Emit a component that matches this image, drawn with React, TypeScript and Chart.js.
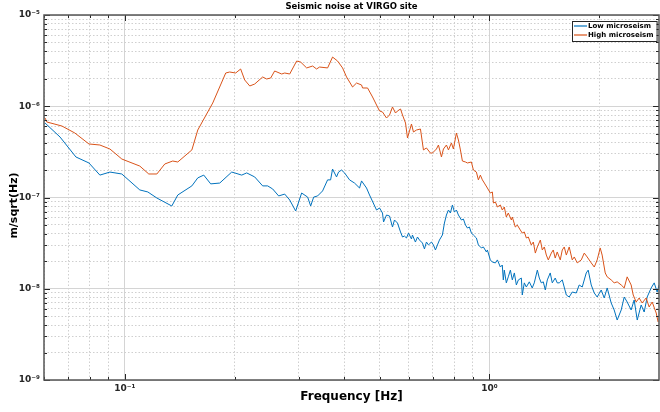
import React, { useEffect, useRef } from "react";
import { Chart, registerables } from "chart.js";
Chart.register(...registerables);

const TITLE = "Seismic noise at VIRGO site";
const X_TITLE = "Frequency [Hz]";
const Y_TITLE = "m/sqrt(Hz)";
const SERIES_NAMES = ["Low microseism", "High microseism"];
const COLORS = ["#0072BD", "#D95319"];

const X_MIN = 0.06;
const X_MAX = 2.92;
const Y_MIN = 1e-9;
const Y_MAX = 1e-5;

const xTickValues = [0.06, 0.07, 0.08, 0.09, 0.1, 0.2, 0.3, 0.4, 0.5, 0.6, 0.7, 0.8, 0.9, 1, 2];
const yTickValues = [
  1e-9, 2e-9, 3e-9, 4e-9, 5e-9, 6e-9, 7e-9, 8e-9, 9e-9,
  1e-8, 2e-8, 3e-8, 4e-8, 5e-8, 6e-8, 7e-8, 8e-8, 9e-8,
  1e-7, 2e-7, 3e-7, 4e-7, 5e-7, 6e-7, 7e-7, 8e-7, 9e-7,
  1e-6, 2e-6, 3e-6, 4e-6, 5e-6, 6e-6, 7e-6, 8e-6, 9e-6,
  1e-5,
];

const freqLow = [0.0604,0.0664,0.0734,0.0797,0.0854,0.0910,0.0981,0.1099,0.1156,0.1224,0.1345,0.1397,0.1527,0.1585,0.1646,0.1720,0.1821,0.1964,0.2001,0.2092,0.2159,0.2271,0.2388,0.2465,0.2544,0.2642,0.2745,0.2833,0.2942,0.3055,0.3173,0.3234,0.3296,0.3379,0.3487,0.3599,0.3668,0.3714,0.3808,0.3857,0.3930,0.4006,0.4135,0.4267,0.4404,0.4460,0.4603,0.4691,0.4903,
  0.4997,0.5091,0.5125,0.5222,0.5322,0.5423,0.5492,0.5597,0.5705,0.5777,0.5848,0.5923,0.6000,0.6114,0.6152,0.6268,0.6350,0.6431,0.6553,0.6636,0.6720,0.6806,0.6935,0.7024,0.7113,0.7204,0.7295,0.7433,0.7529,0.7624,0.7722,0.7819,0.7918,0.8019,0.8120,0.8224,0.8382,0.8488,0.8600,0.8705,0.8815,0.8927,0.9040,0.9213,0.9330,0.9508,0.9629,0.9813,0.9875,
  1.006,1.019,1.039,1.052,1.072,1.085,1.092,1.099,1.113,1.127,1.142,1.156,1.171,1.186,1.201,1.224,1.231,1.247,1.263,1.287,1.311,1.328,1.354,1.371,1.388,1.406,1.424,1.442,1.469,1.488,1.516,1.535,1.555,1.585,1.626,1.656,1.688,1.731,1.764,1.798,1.844,1.867,1.903,1.940,1.976,2.027,2.066,2.105,2.159,2.200,2.242,2.300,2.344,2.388,2.449,2.496,2.545,2.609,2.659,2.710,2.779,2.833,2.886,2.923];
const ampLow = [6.55e-7,4.60e-7,2.78e-7,2.39e-7,1.76e-7,1.90e-7,1.81e-7,1.21e-7,1.15e-7,9.87e-8,8.07e-8,1.065e-7,1.34e-7,1.64e-7,1.76e-7,1.41e-7,1.44e-7,1.90e-7,1.86e-7,1.76e-7,1.86e-7,1.68e-7,1.34e-7,1.34e-7,1.24e-7,1.04e-7,1.09e-7,9.39e-8,7.11e-8,1.12e-7,1.01e-7,8.07e-8,1.01e-7,1.04e-7,1.18e-7,1.56e-7,1.56e-7,2.05e-7,1.68e-7,1.90e-7,2.00e-7,1.86e-7,1.56e-7,1.44e-7,1.27e-7,1.52e-7,1.27e-7,1.065e-7,7.29e-8,
  7.67e-8,6.76e-8,5.39e-8,6.43e-8,6.27e-8,4.75e-8,5.67e-8,5.25e-8,4.19e-8,3.69e-8,3.78e-8,3.60e-8,4.08e-8,3.51e-8,3.88e-8,3.25e-8,3.69e-8,3.42e-8,3.17e-8,2.73e-8,3.25e-8,3.02e-8,3.25e-8,3.02e-8,2.66e-8,3.02e-8,3.42e-8,3.88e-8,5.25e-8,6.43e-8,7.29e-8,6.76e-8,8.28e-8,6.93e-8,7.29e-8,6.43e-8,5.67e-8,5.81e-8,4.99e-8,4.63e-8,4.75e-8,4.08e-8,3.88e-8,3.60e-8,3.02e-8,2.80e-8,2.87e-8,2.53e-8,2.66e-8,
  2.07e-8,1.96e-8,1.92e-8,2.07e-8,1.73e-8,1.82e-8,1.25e-8,1.60e-8,1.16e-8,1.35e-8,1.60e-8,1.25e-8,1.49e-8,1.10e-8,1.25e-8,1.31e-8,8.54e-9,1.16e-8,1.045e-8,1.19e-8,1.02e-8,1.16e-8,1.60e-8,1.31e-8,1.16e-8,1.19e-8,9.69e-9,1.25e-8,1.49e-8,1.16e-8,1.31e-8,1.16e-8,1.16e-8,1.25e-8,8.54e-9,8.12e-9,9.21e-9,8.98e-9,1.10e-8,1.045e-8,1.49e-8,1.60e-8,1.10e-8,8.98e-9,8.12e-9,9.69e-9,7.92e-9,1.02e-8,6.98e-9,5.85e-9,4.54e-9,5.85e-9,8.12e-9,7.16e-9,5.85e-9,7.53e-9,4.54e-9,6.64e-9,5.56e-9,8.12e-9,1.02e-8,1.16e-8,9.21e-9,1.10e-8];

const freqHigh = [0.0604,0.0611,0.0672,0.0729,0.0797,0.0854,0.0910,0.0981,0.1099,0.1163,0.1224,0.1287,0.1353,0.1397,0.1527,0.1585,0.1742,0.1891,0.1939,0.2014,0.2078,0.2132,0.2201,0.2271,0.2388,0.2449,0.2512,0.2576,0.2693,0.2745,0.2833,0.2960,0.3036,0.3153,0.3275,0.3357,0.3421,0.3599,0.3714,0.3833,0.3956,0.4057,0.4214,0.4322,0.4460,0.4489,0.4633,0.4781,
  0.4997,0.5091,0.5222,0.5322,0.5423,0.5527,0.5597,0.5705,0.5777,0.5888,0.5962,0.6114,0.6191,0.6310,0.6471,0.6594,0.6720,0.6892,0.6979,0.7158,0.7249,0.7388,0.7482,0.7624,0.7722,0.7869,0.7968,0.8120,0.8224,0.8329,0.8434,0.8600,0.8705,0.8927,0.9040,0.9213,0.9330,0.9447,0.9568,0.9690,0.9875,
  1.006,1.019,1.026,1.039,1.052,1.072,1.085,1.099,1.113,1.127,1.149,1.156,1.178,1.193,1.216,1.231,1.247,1.263,1.279,1.303,1.320,1.337,1.354,1.380,1.397,1.415,1.433,1.451,1.479,1.497,1.516,1.535,1.565,1.585,1.605,1.626,1.656,1.688,1.710,1.742,1.787,1.821,1.855,1.903,1.940,1.976,2.014,2.039,2.079,2.105,2.159,2.200,2.242,2.300,2.344,2.388,2.449,2.481,2.528,2.576,2.625,2.692,2.744,2.797,2.869,2.904];
const ampHigh = [7.43e-7,6.72e-7,6.07e-7,5.09e-7,3.86e-7,3.76e-7,3.40e-7,2.64e-7,2.21e-7,1.81e-7,1.81e-7,2.33e-7,2.51e-7,2.45e-7,3.32e-7,5.49e-7,1.085e-6,2.314e-6,2.373e-6,2.314e-6,2.56e-6,1.94e-6,1.667e-6,1.753e-6,2.092e-6,1.989e-6,2.039e-6,2.434e-6,2.256e-6,2.314e-6,2.256e-6,3.13e-6,3.05e-6,2.63e-6,2.76e-6,2.56e-6,2.69e-6,2.63e-6,3.46e-6,3.13e-6,2.63e-6,2.092e-6,1.626e-6,1.798e-6,1.710e-6,1.585e-6,1.585e-6,1.263e-6,
  8.87e-7,8.65e-7,7.43e-7,8.02e-7,9.81e-7,8.43e-7,8.87e-7,9.33e-7,8.02e-7,6.55e-7,4.49e-7,6.39e-7,5.22e-7,5.49e-7,5.63e-7,3.32e-7,3.49e-7,3.07e-7,3.07e-7,3.40e-7,3.76e-7,2.78e-7,3.40e-7,3.76e-7,3.32e-7,3.96e-7,3.40e-7,5.09e-7,4.27e-7,3.32e-7,2.51e-7,2.45e-7,2.39e-7,2.45e-7,2.00e-7,1.90e-7,1.56e-7,1.76e-7,1.56e-7,1.44e-7,1.27e-7,
  1.12e-7,1.15e-7,8.70e-8,8.93e-8,7.87e-8,8.28e-8,7.29e-8,7.87e-8,6.11e-8,6.76e-8,5.67e-8,6.11e-8,4.75e-8,4.99e-8,4.40e-8,4.08e-8,4.19e-8,3.60e-8,3.69e-8,3.02e-8,3.25e-8,2.46e-8,2.87e-8,3.42e-8,2.66e-8,2.87e-8,2.34e-8,2.07e-8,2.46e-8,2.66e-8,2.17e-8,2.53e-8,2.07e-8,2.66e-8,2.87e-8,2.34e-8,2.87e-8,2.07e-8,2.23e-8,1.92e-8,2.07e-8,2.46e-8,2.23e-8,1.92e-8,1.73e-8,2.07e-8,2.80e-8,2.34e-8,1.49e-8,1.35e-8,1.25e-8,1.16e-8,1.19e-8,1.10e-8,1.02e-8,1.35e-8,1.10e-8,8.54e-9,7.16e-9,7.92e-9,6.98e-9,7.92e-9,6.31e-9,7.16e-9,5.42e-9,4.32e-9];

const FONT = "'DejaVu Sans', sans-serif";
const TEXT_COLOR = "#262626";

const SUP: Record<string, string> = {
  "-": "\u207B", "0": "\u2070", "1": "\u00B9", "2": "\u00B2", "3": "\u00B3",
  "4": "\u2074", "5": "\u2075", "6": "\u2076", "7": "\u2077", "8": "\u2078", "9": "\u2079",
};
const isPow10 = (v: number) => {
  const l = Math.log10(v);
  return Math.abs(l - Math.round(l)) < 1e-6;
};
const powLabel = (v: number) => {
  const e = String(Math.round(Math.log10(v)));
  return "10" + e.split("").map((c) => SUP[c]).join("");
};

const framePlugin = {
  id: "matlabFrame",
  afterDraw(chart: any) {
    const { ctx, chartArea, scales } = chart;
    const { left, right, top, bottom } = chartArea;
    const xs = scales.x;
    const ys = scales.y;
    ctx.save();
    // inward ticks on all sides
    ctx.strokeStyle = TEXT_COLOR;
    ctx.lineWidth = 1;
    ctx.beginPath();
    for (const v of xTickValues) {
      const px = Math.round(xs.getPixelForValue(v)) + 0.5;
      const len = isPow10(v) ? 6 : 3;
      ctx.moveTo(px, bottom); ctx.lineTo(px, bottom - len);
      ctx.moveTo(px, top); ctx.lineTo(px, top + len);
    }
    for (const v of yTickValues) {
      const py = Math.round(ys.getPixelForValue(v)) + 0.5;
      const len = isPow10(v) ? 6 : 3;
      ctx.moveTo(left, py); ctx.lineTo(left + len, py);
      ctx.moveTo(right, py); ctx.lineTo(right - len, py);
    }
    ctx.stroke();
    // box
    ctx.lineWidth = 1.5;
    ctx.strokeStyle = "#555555";
    ctx.strokeRect(left, top, right - left, bottom - top);
    // title
    ctx.fillStyle = "#000";
    ctx.font = `bold 8.5px ${FONT}`;
    ctx.textAlign = "center";
    ctx.textBaseline = "middle";
    ctx.fillText(TITLE, (left + right) / 2, 7);
    // y axis title
    ctx.save();
    ctx.translate(14, (top + bottom) / 2 + 8);
    ctx.rotate(-Math.PI / 2);
    ctx.font = `bold 11px ${FONT}`;
    ctx.fillText(Y_TITLE, 0, 0);
    ctx.restore();
    // legend
    ctx.font = `bold 7px ${FONT}`;
    const tw = Math.max(...SERIES_NAMES.map((s) => ctx.measureText(s).width));
    const bw = 16 + tw + 3;
    const bh = 20;
    const bx = Math.round(right - 2 - bw);
    const by = top + 6;
    ctx.fillStyle = "#fff";
    ctx.fillRect(bx, by, bw, bh);
    ctx.lineWidth = 1;
    ctx.strokeStyle = TEXT_COLOR;
    ctx.strokeRect(bx + 0.5, by + 0.5, bw, bh);
    SERIES_NAMES.forEach((name, i) => {
      const cy = by + 5 + i * 9;
      ctx.strokeStyle = COLORS[i];
      ctx.lineWidth = 1.2;
      ctx.beginPath();
      ctx.moveTo(bx + 2, cy);
      ctx.lineTo(bx + 15, cy);
      ctx.stroke();
      ctx.fillStyle = "#000";
      ctx.textAlign = "left";
      ctx.textBaseline = "middle";
      ctx.fillText(name, bx + 16, cy);
    });
    ctx.restore();
  },
};

const gridColor = (c: any) => (c.tick && isPow10(c.tick.value) ? "#d4d4d4" : "#cfcfcf");
const gridDash = (c: any) => (c.tick && !isPow10(c.tick.value) ? [1.5, 2] : []);

export default function App() {
  const ref = useRef<HTMLCanvasElement | null>(null);
  useEffect(() => {
    if (!ref.current) return;
    const lowData = freqLow.map((f, i) => ({ x: f, y: ampLow[i] }));
    const highData = freqHigh.map((f, i) => ({ x: f, y: ampHigh[i] }));
    const chart = new Chart(ref.current, {
      type: "line",
      data: {
        datasets: [
          { label: SERIES_NAMES[0], data: lowData, borderColor: COLORS[0], borderWidth: 1, pointRadius: 0, tension: 0, order: 1 },
          { label: SERIES_NAMES[1], data: highData, borderColor: COLORS[1], borderWidth: 1, pointRadius: 0, tension: 0, order: 0 },
        ],
      },
      options: {
        animation: false,
        responsive: false,
        devicePixelRatio: 1,
        layout: { padding: { left: 0, right: 1, top: 15, bottom: 0 } },
        plugins: { legend: { display: false }, title: { display: false }, tooltip: { enabled: false } },
        scales: {
          x: {
            type: "logarithmic",
            min: X_MIN,
            max: X_MAX,
            afterBuildTicks: (s: any) => { s.ticks = xTickValues.map((v) => ({ value: v, major: isPow10(v) })); },
            afterFit: (s: any) => { s.height = 32; },
            ticks: {
              autoSkip: false,
              maxRotation: 0,
              padding: 3,
              color: TEXT_COLOR,
              font: { family: FONT, size: 9, weight: "bold" },
              callback: (v: any) => (isPow10(Number(v)) ? powLabel(Number(v)) : ""),
            },
            grid: { color: gridColor, drawTicks: false, lineWidth: 1 },
            border: { display: false, dash: gridDash },
            title: {
              display: true,
              text: X_TITLE,
              color: "#000",
              font: { family: FONT, size: 12, weight: "bold" },
              padding: { top: 0, bottom: 8 },
            },
          },
          y: {
            type: "logarithmic",
            min: Y_MIN,
            max: Y_MAX,
            afterBuildTicks: (s: any) => { s.ticks = yTickValues.map((v) => ({ value: v, major: isPow10(v) })); },
            afterFit: (s: any) => { s.width = 44; },
            ticks: {
              autoSkip: false,
              padding: 4,
              color: TEXT_COLOR,
              font: { family: FONT, size: 9, weight: "bold" },
              callback: (v: any) => (isPow10(Number(v)) ? powLabel(Number(v)) : ""),
            },
            grid: { color: gridColor, drawTicks: false, lineWidth: 1 },
            border: { display: false, dash: gridDash },
            title: { display: false },
          },
        },
      },
      plugins: [framePlugin],
    } as any);
    return () => chart.destroy();
  }, []);
  return (
    <div style={{ position: "absolute", left: 0, top: 0, width: 660, height: 412, background: "#fff" }}>
      <canvas ref={ref} width={660} height={412} style={{ width: 660, height: 412, display: "block" }} />
    </div>
  );
}
